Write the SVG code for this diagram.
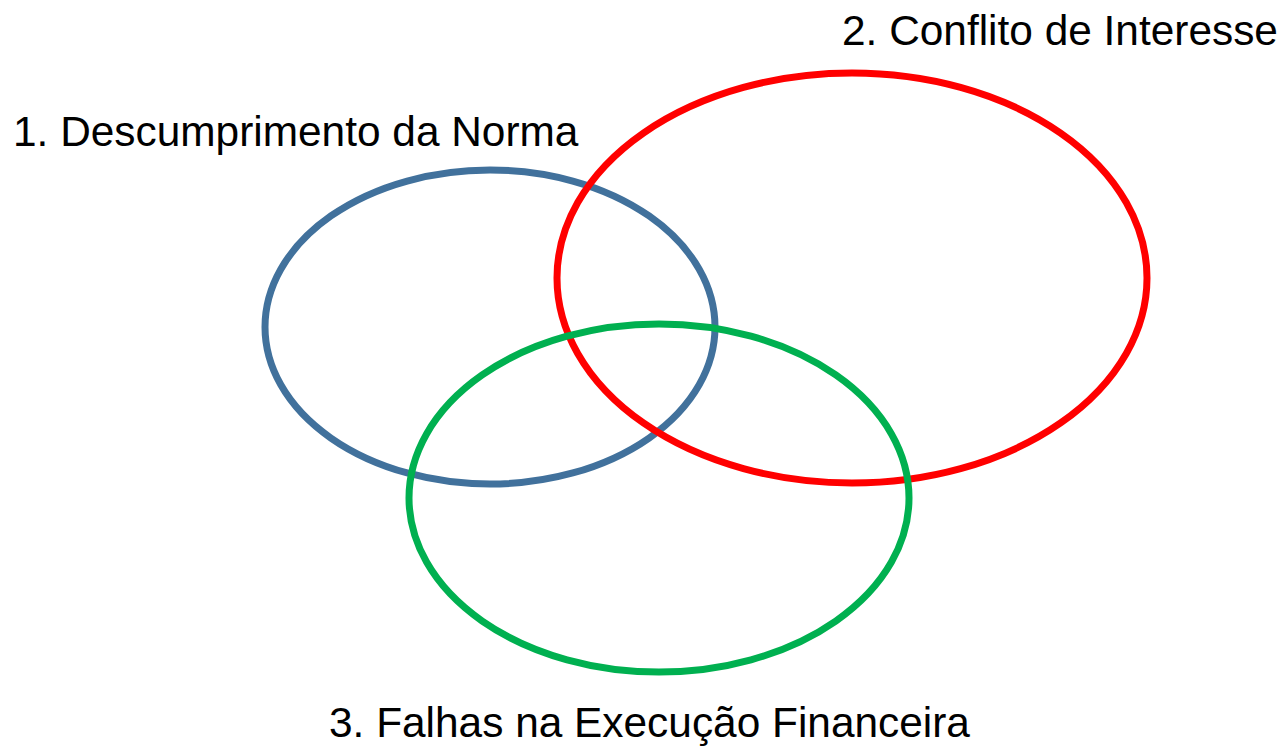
<svg xmlns="http://www.w3.org/2000/svg" width="1286" height="746" viewBox="0 0 1286 746">
<style>
.e{fill:none;stroke-width:7}
.t{font-family:"Liberation Sans",Arial,sans-serif;font-size:42.4px;fill:#000}
</style>
<rect width="1286" height="746" fill="#fff"/>
<g id="n1"><ellipse class="e" cx="490" cy="327" rx="225" ry="157" stroke="#41719C"/><text class="t" x="13" y="146">1. Descumprimento da Norma</text></g>
<g id="n2"><ellipse class="e" cx="852" cy="278" rx="295" ry="205" stroke="#FF0000"/><text class="t" x="842" y="45">2. Conflito de Interesse</text></g>
<g id="n3"><ellipse class="e" cx="659" cy="498" rx="250" ry="174" stroke="#00B050"/><text class="t" x="329" y="737">3. Falhas na Execução Financeira</text></g>
<g id="connectors"></g>
</svg>
